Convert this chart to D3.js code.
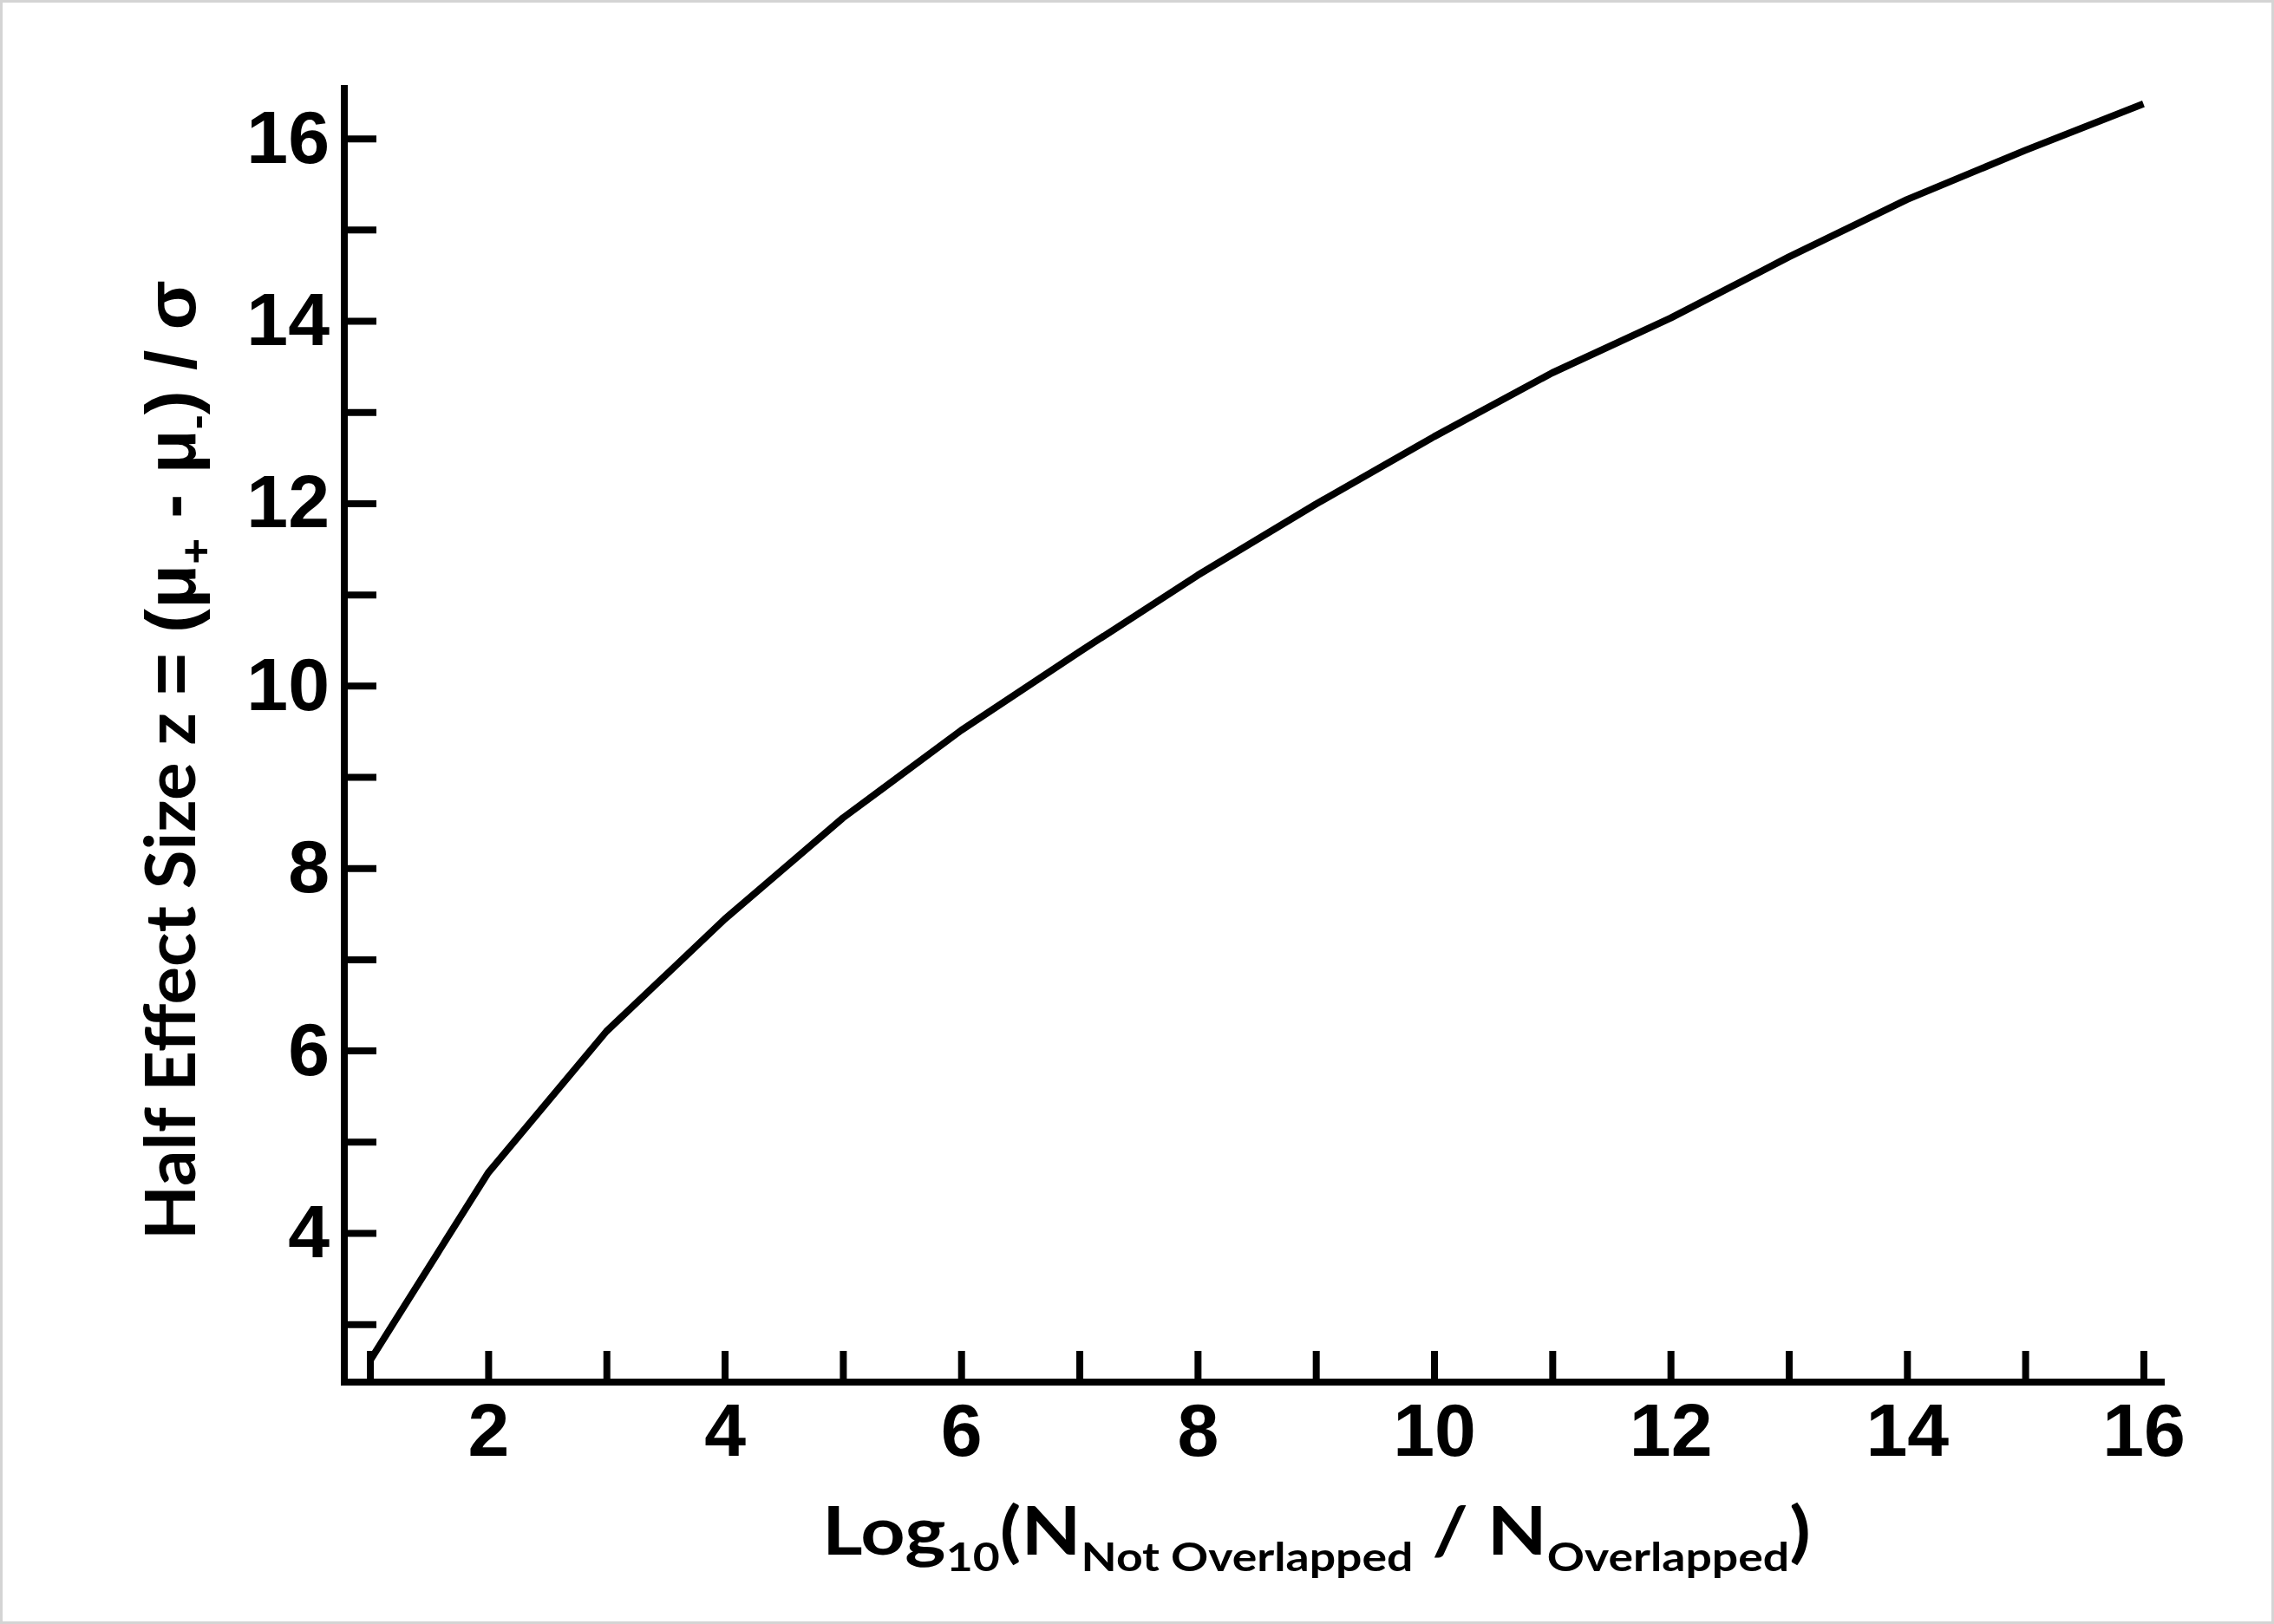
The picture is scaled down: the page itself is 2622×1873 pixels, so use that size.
<!DOCTYPE html>
<html>
<head>
<meta charset="utf-8">
<script src="https://cdn.jsdelivr.net/npm/d3@7"></script>
<style>
  html, body { margin: 0; padding: 0; background: #fff; }
  svg { display: block; }
</style>
</head>
<body>
<svg id="chart" width="2622" height="1873"></svg>
<script>
// ---- data ----
const xValues = [1, 2, 3, 4, 5, 6, 7, 8, 9, 10, 11, 12, 13, 14, 15, 16];
const zValues = [2.6, 4.66, 6.21, 7.44, 8.55, 9.51, 10.37, 11.21, 11.99, 12.73, 13.43, 14.03, 14.70, 15.33, 15.87, 16.38];
const xTicks = [1, 2, 3, 4, 5, 6, 7, 8, 9, 10, 11, 12, 13, 14, 15, 16];
const yTicks = [3, 4, 5, 6, 7, 8, 9, 10, 11, 12, 13, 14, 15, 16];
const xDomain = [0.783, 16.18];
const yDomain = [2.365, 16.586];

(function () {
const svg = d3.select("#chart");
const W = 2622, H = 1873;

svg.append("rect").attr("x", 1.5).attr("y", 1.5).attr("width", W - 3).attr("height", H - 3)
  .attr("fill", "#fff").attr("stroke", "#d4d4d4").attr("stroke-width", 3);

const mLeft = 397, mRight = 2496, mTop = 98, mBottom = 1594;
const x = d3.scaleLinear().domain(xDomain).range([mLeft, mRight]);
const y = d3.scaleLinear().domain(yDomain).range([mBottom, mTop]);

const tickFont = "'Liberation Sans', Arial, sans-serif";

// x axis
const gx = svg.append("g").attr("transform", `translate(0,${mBottom})`)
  .call(d3.axisBottom(x).tickValues(xTicks).tickSizeInner(-36).tickSizeOuter(0).tickPadding(24)
    .tickFormat(d => d % 2 === 0 ? d : ""));
// y axis
const gy = svg.append("g").attr("transform", `translate(${mLeft},0)`)
  .call(d3.axisLeft(y).tickValues(yTicks).tickSizeInner(-37).tickSizeOuter(0).tickPadding(17)
    .tickFormat(d => d % 2 === 0 ? d : ""));

[gx, gy].forEach(g => {
  g.select(".domain").attr("stroke", "#000").attr("stroke-width", 8);
  g.selectAll(".tick line").attr("stroke", "#000").attr("stroke-width", 8);
  g.selectAll(".tick text").attr("fill", "#000")
    .style("font-family", tickFont).style("font-weight", "bold").style("font-size", "86px");
});
gx.select(".domain").attr("d", `M${mLeft - 4},0H${mRight}`);
gy.select(".domain").attr("d", `M0,${mTop}V${mBottom + 4}`);

// curve
const line = d3.line().x((d, i) => x(xValues[i])).y(d => y(d)).curve(d3.curveLinear);
svg.append("path").datum(zValues)
  .attr("d", line).attr("fill", "none").attr("stroke", "#000")
  .attr("stroke-width", 8).attr("stroke-linejoin", "round").attr("stroke-linecap", "butt");

// x axis title
const titleFont = "Lato, 'Open Sans', sans-serif";
const xt = svg.append("text").attr("x", 0).attr("y", 0)
  .style("font-family", titleFont).style("font-weight", "bold").style("font-size", "77px").attr("fill", "#000");
xt.append("tspan").text("Log");
xt.append("tspan").text("10").style("font-size", "46px").attr("dy", 19);
xt.append("tspan").text("(N").attr("dy", -19);
xt.append("tspan").text("Not Overlapped").style("font-size", "46px").attr("dy", 19);
xt.append("tspan").text(" / N").attr("dy", -19);
xt.append("tspan").text("Overlapped").style("font-size", "46px").attr("dy", 19);
xt.append("tspan").text(")").attr("dy", -19);
{
  const bb = xt.node().getBBox();
  const target = 2088 - 948;
  const s = target / bb.width;
  xt.attr("transform", `translate(${948 - bb.x * s},1793) scale(${s},1)`);
}

// y axis title
const yt = svg.append("text").attr("x", 0).attr("y", 0)
  .style("font-weight", "bold").attr("fill", "#000");
const symFont = "'Liberation Sans', Arial, sans-serif";
yt.append("tspan").text("Half Effect Size z ").style("font-family", titleFont).style("font-size", "80px");
yt.append("tspan").text("= (μ").style("font-family", symFont).style("font-size", "82px");
yt.append("tspan").text("+").style("font-family", symFont).style("font-size", "50px").attr("dy", 18);
yt.append("tspan").text(" - μ").style("font-family", symFont).style("font-size", "82px").attr("dy", -18);
yt.append("tspan").text("-").style("font-family", symFont).style("font-size", "50px").attr("dy", 18);
yt.append("tspan").text(") / σ").style("font-family", symFont).style("font-size", "82px").attr("dy", -18);
{
  const bb = yt.node().getBBox();
  const target = 1430 - 323;
  const s = target / bb.width;
  yt.attr("transform", `translate(225,${1430 + bb.x * s}) rotate(-90) scale(${s},1)`);
}
})();
</script>
</body>
</html>
